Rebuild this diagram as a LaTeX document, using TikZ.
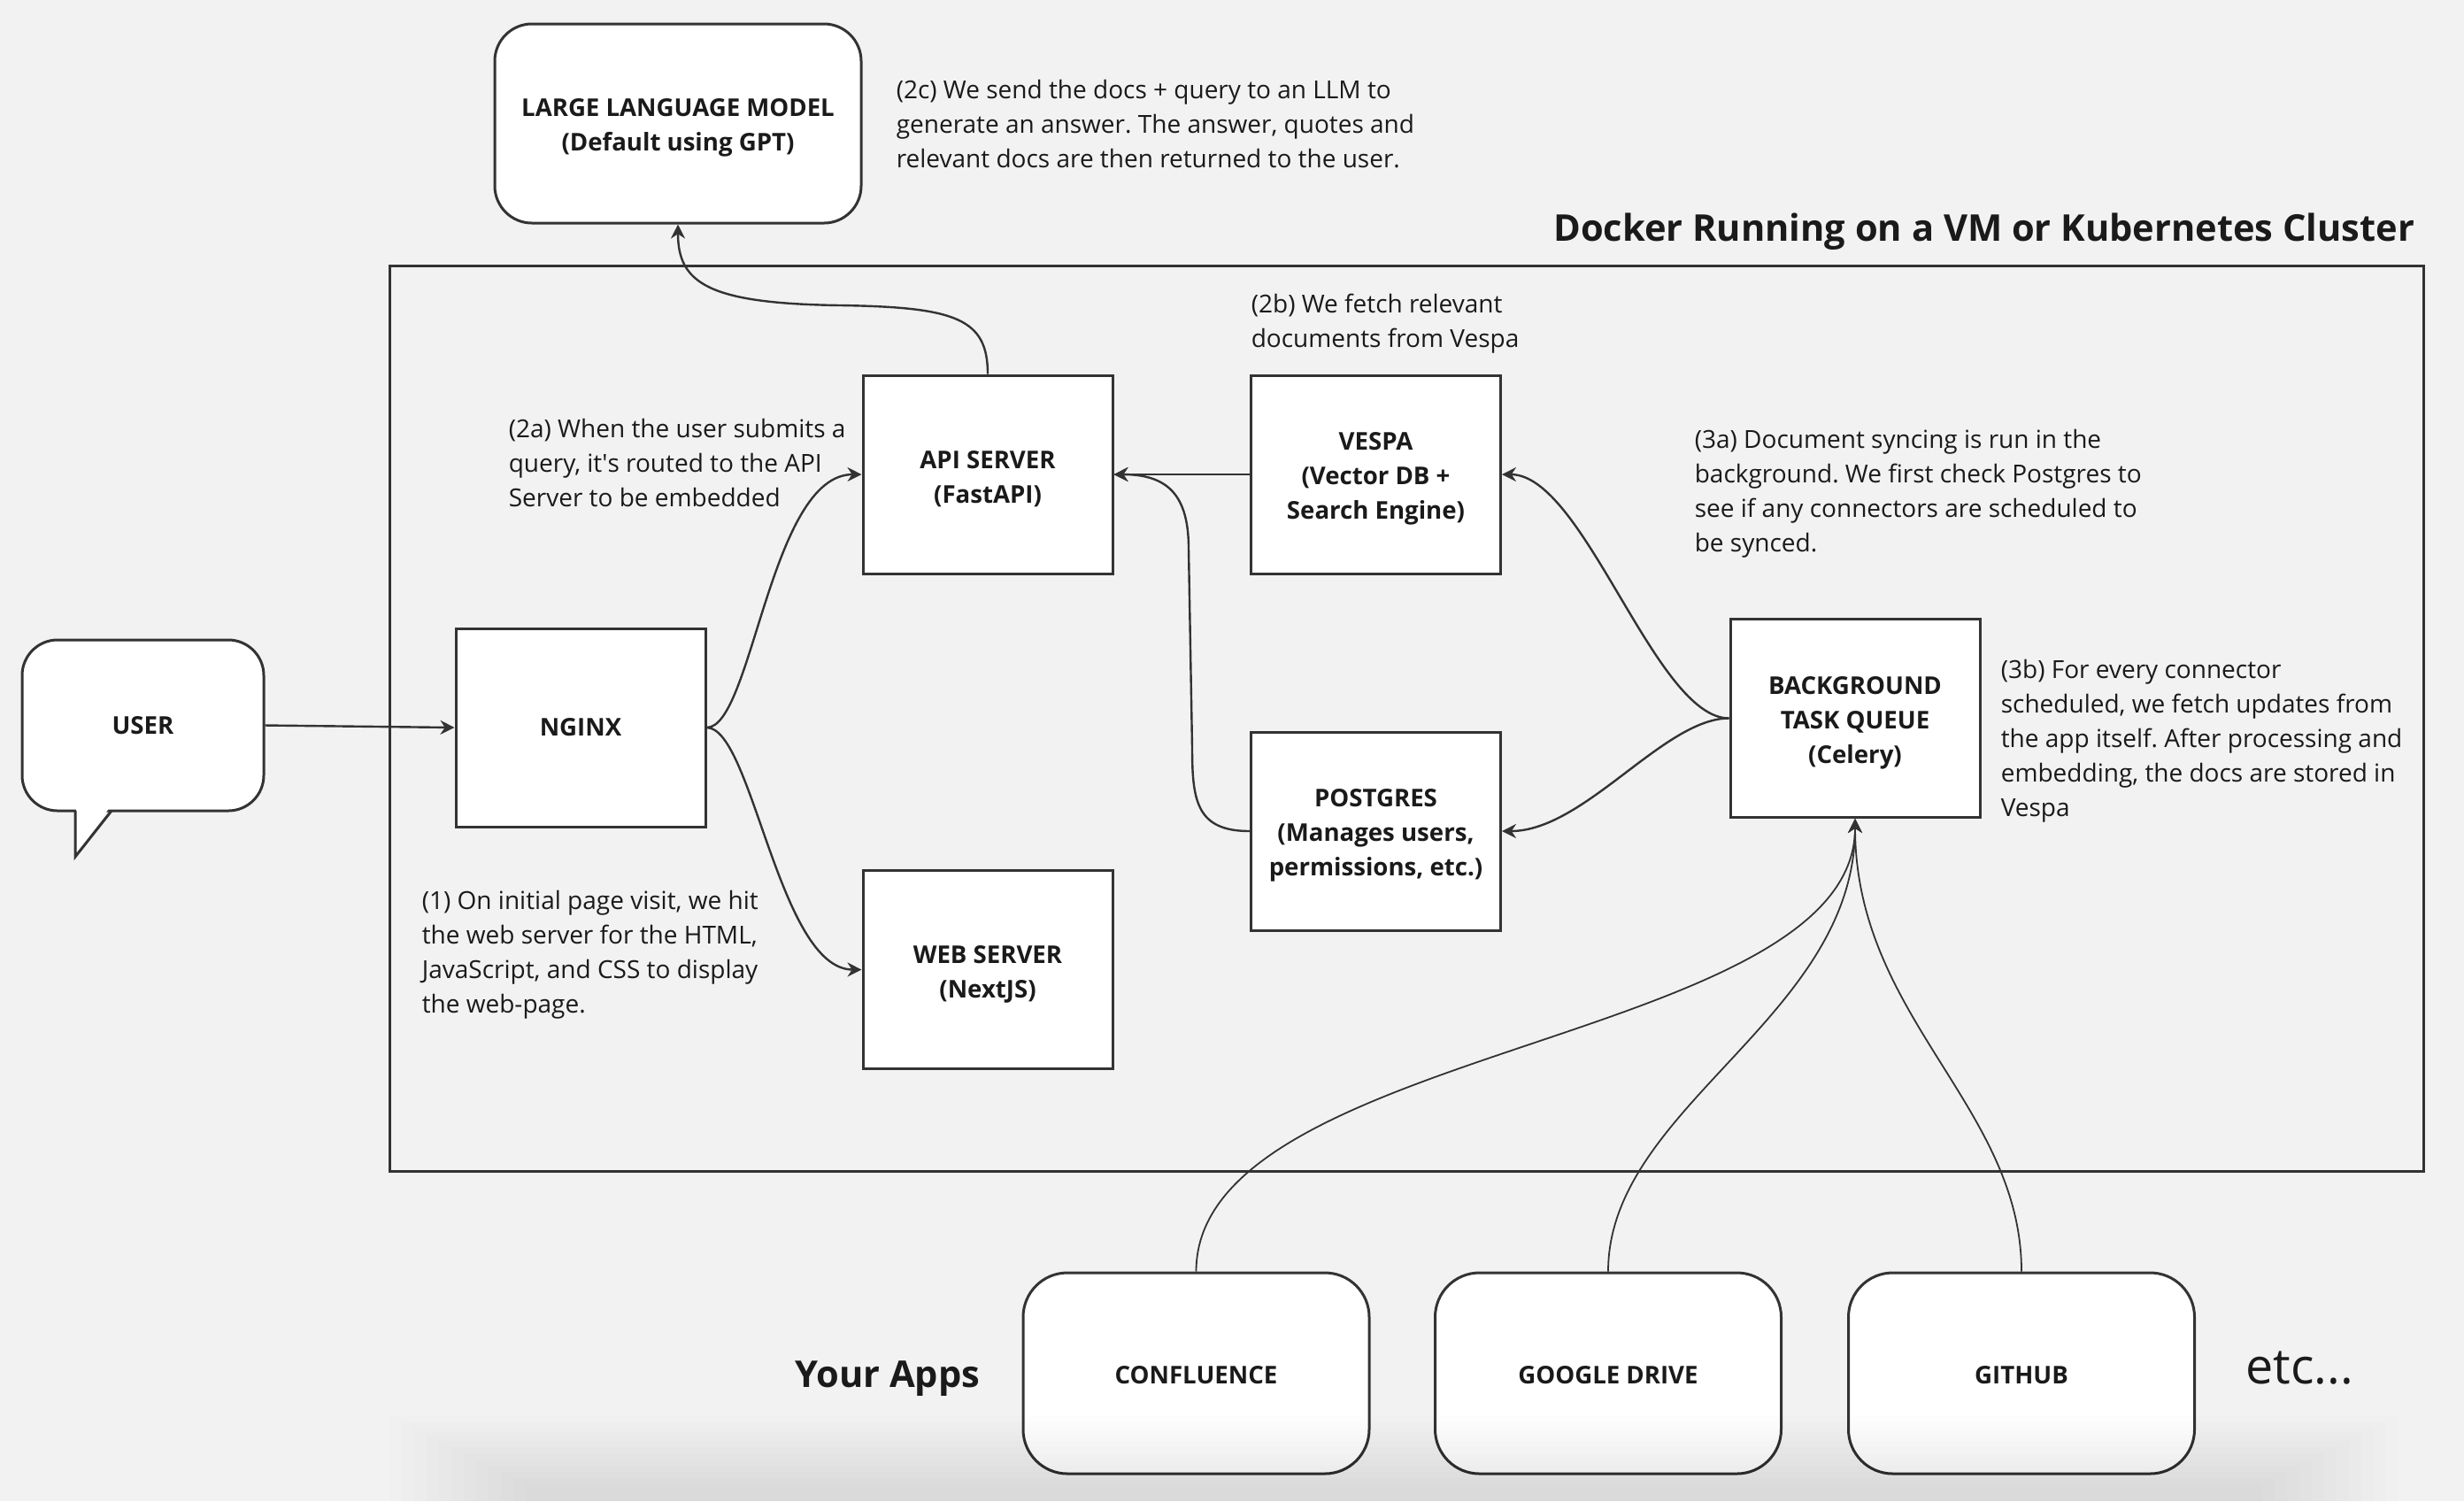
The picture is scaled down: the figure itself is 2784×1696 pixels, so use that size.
\documentclass[tikz,border=0pt]{standalone}
\usepackage{fontspec}
\setmainfont{Open Sans}
\newfontfamily\plainos{Open Sans}
\usetikzlibrary{arrows.meta}
\definecolor{bgc}{HTML}{F2F2F2}
\definecolor{ink}{HTML}{1A1A1A}
\definecolor{linec}{HTML}{333333}
\newcommand{\tstrut}{\rule{0pt}{7.5pt}}
\newcommand{\astrut}{\rule{0pt}{5.9pt}}
\frenchspacing
\begin{document}
\begin{tikzpicture}[x=0.25pt,y=-0.25pt,
  box/.style={draw=linec, line width=0.75pt, fill=white, text=ink, align=center, inner sep=0pt,
    font=\bfseries\fontsize{6.9}{9.75}\selectfont},
  sqbox/.style={box, minimum width=70.5pt, minimum height=56pt},
  roundbox/.style={box, rounded corners=10.5pt},
  appbox/.style={box, rounded corners=12.5pt, minimum width=97.75pt, minimum height=56.75pt},
  note/.style={font=\fontsize{7}{9.75}\selectfont, text=ink, align=left, inner sep=0pt, anchor=west},
  big/.style={font=\bfseries\fontsize{10.4}{13}\selectfont, text=ink, inner sep=0pt},
  arr/.style={draw=linec, line width=0.6pt, -{Stealth[length=4pt,width=4pt]}},
  thinarr/.style={arr, line width=0.45pt}]
\useasboundingbox (0,0) rectangle (2784,1696);
\fill[bgc] (0,0) rectangle (2784,1696);

% container
\node[draw=linec, line width=0.75pt, minimum width=574.5pt, minimum height=255.75pt, inner sep=0pt] (docker) at (1589,811.5) {};
\node[big, anchor=east] (title) at (2729,262) {Docker Running on a VM or Kubernetes Cluster};

% boxes
\node[roundbox, minimum width=103.5pt, minimum height=56.25pt] (llm) at (766,139.5) {\tstrut LARGE LANGUAGE MODEL\\(Default using GPT)};
\node[sqbox] (api) at (1116,536) {\tstrut API SERVER\\(FastAPI)};
\node[sqbox] (vespa) at (1554.5,536) {\tstrut VESPA\\(Vector DB +\\Search Engine)};
\node[sqbox] (nginx) at (656,822) {NGINX};
\node[sqbox] (bg) at (2096,811.5) {\tstrut BACKGROUND\\TASK QUEUE\\(Celery)};
\node[sqbox] (pg) at (1554.5,939) {\tstrut POSTGRES\\(Manages users,\\permissions, etc.)};
\node[sqbox] (web) at (1116,1095.5) {\tstrut WEB SERVER\\(NextJS)};
\node[appbox] (conf) at (1351.5,1551.5) {\astrut CONFLUENCE};
\node[appbox] (gdrive) at (1817,1551.5) {\astrut GOOGLE DRIVE};
\node[appbox] (github) at (2284,1551.5) {\astrut GITHUB};

% user callout
\node[roundbox, minimum width=68.25pt, minimum height=48.25pt, rounded corners=10pt] (user) at (161.5,819.5) {USER};
\fill[white] (86,912) -- (86,966) -- (124,912) -- cycle;
\draw[draw=linec, line width=0.75pt, line join=miter] (85,916) -- (85,968) -- (126,916);

% labels
\node[note] (t2c) at (1012,140) {(2c) We send the docs + query to an LLM to\\generate an answer. The answer, quotes and\\relevant docs are then returned to the user.};
\node[note] (t2b) at (1413,366) {(2b) We fetch relevant\\documents from Vespa};
\node[note] (t2a) at (574,523) {(2a) When the user submits a\\query, it{\plainos'}s routed to the API\\Server to be embedded};
\node[note] (t3a) at (1914,557.5) {(3a) Document syncing is run in the\\background. We first check Postgres to\\see if any connectors are scheduled to\\be synced.};
\node[note] (t3b) at (2260,837) {(3b) For every connector\\scheduled, we fetch updates from\\the app itself. After processing and\\embedding, the docs are stored in\\Vespa};
\node[note] (t1) at (476,1079) {(1) On initial page visit, we hit\\the web server for the HTML,\\JavaScript, and CSS to display\\the web-page.};
\node[big] (yourapps) at (1003,1558) {Your Apps};
\node[font=\fontsize{13.9}{16}\selectfont, text=ink, inner sep=0pt] (etc) at (2598,1546) {etc...};

% connectors
\draw[arr] (user.east) -- (nginx.west);
\draw[arr] (nginx.east) .. controls (850,822) and (870,536) .. (api.west);
\draw[arr] (nginx.east) .. controls (850,822) and (880,1095.5) .. (web.west);
\draw[arr] (api.north) .. controls (1116,360) and (1080,347) .. (950,345) .. controls (800,343) and (766,320) .. (llm.south);
\draw[arr] (vespa.west) -- (api.east);
\draw[arr] (pg.west) .. controls (1352,939) and (1347,905) .. (1347,845) -- (1343,620) .. controls (1343,560) and (1320,536) .. (api.east);
\draw[arr] (bg.west) .. controls (1870,811.5) and (1790,536) .. (vespa.east);
\draw[arr] (bg.west) .. controls (1880,811.5) and (1790,939) .. (pg.east);
\draw[thinarr] (conf.north) .. controls (1351.5,1180) and (2096,1180) .. (bg.south);
\draw[thinarr] (gdrive.north) .. controls (1817,1250) and (2096,1150) .. (bg.south);
\draw[thinarr] (github.north) .. controls (2284,1250) and (2096,1150) .. (bg.south);

% soft shadow at the bottom edge
\foreach \i in {0,...,11} {
  \fill[black, opacity=0.009] (440+\i*14,1600+\i*7) rectangle (2710-\i*14,1696);
}
\end{tikzpicture}
\end{document}
